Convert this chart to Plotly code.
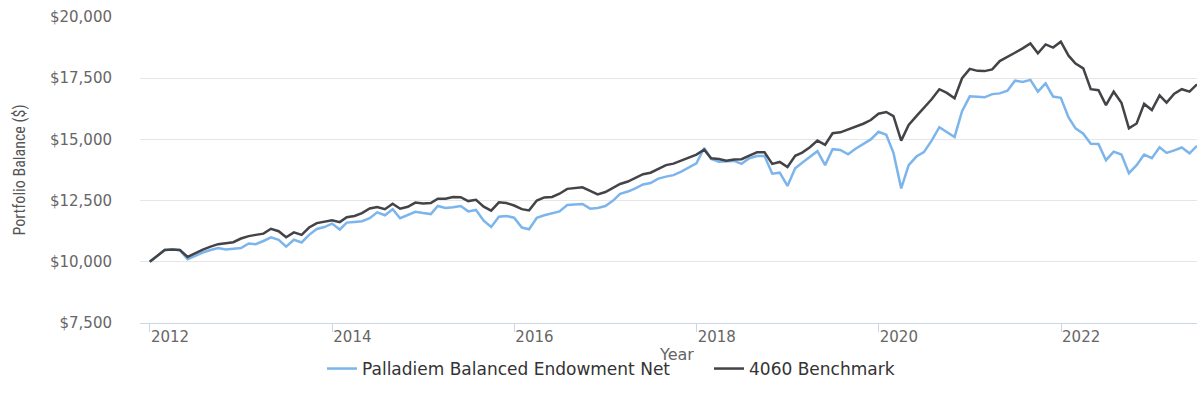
import pandas as pd
import plotly.graph_objects as go

# Monthly observations, Dec 2011 .. Jun 2023 (month-end)
dates = pd.date_range(start="2012-01-01", periods=139, freq="MS") - pd.Timedelta(days=1)

palladiem = [
    10000, 10250, 10480, 10500, 10470, 10100, 10250, 10380, 10480, 10560, 10500, 10530,
    10560, 10750, 10720, 10850, 11000, 10900, 10620, 10900, 10790, 11100, 11340, 11420,
    11560, 11320, 11600, 11630, 11660, 11780, 12020, 11900, 12150, 11780, 11920, 12040,
    11990, 11950, 12280, 12200, 12230, 12280, 12060, 12120, 11680, 11420, 11840, 11870,
    11800, 11400, 11330, 11800, 11900, 11990, 12060, 12320, 12330, 12360, 12170, 12200,
    12280, 12500, 12780, 12870, 13000, 13160, 13220, 13400, 13480, 13540, 13680, 13840,
    14020, 14650, 14200, 14090, 14090, 14120, 14000, 14230, 14320, 14320, 13600, 13640,
    13100, 13820, 14050, 14270, 14520, 13950, 14600, 14570, 14390, 14620, 14820, 15000,
    15310, 15190, 14450, 13000, 13950, 14300, 14480, 14950, 15500, 15320, 15100, 16150,
    16760, 16740, 16720, 16850, 16880, 16990, 17400, 17350, 17430, 16950, 17290, 16750,
    16700, 15900, 15450, 15230, 14820, 14810, 14150, 14500, 14380, 13620, 13950, 14380,
    14230, 14680, 14450, 14550, 14670, 14430, 14740,
]

benchmark = [
    10000, 10250, 10480, 10500, 10480, 10200, 10350, 10500, 10620, 10720, 10760, 10800,
    10950, 11050, 11100, 11150, 11350, 11250, 11000, 11200, 11100, 11400, 11580, 11650,
    11700, 11620, 11820, 11870, 11990, 12180, 12240, 12150, 12370, 12170, 12250, 12420,
    12380, 12400, 12580, 12580, 12650, 12640, 12480, 12530, 12250, 12090, 12430, 12400,
    12300, 12150, 12100, 12500, 12630, 12650, 12780, 12980, 13010, 13040, 12900, 12750,
    12850, 13020, 13180, 13280, 13430, 13580, 13640, 13810, 13950, 14010, 14140, 14260,
    14380, 14580, 14230, 14200, 14130, 14180, 14190, 14340, 14470, 14470, 14000, 14080,
    13870, 14330, 14460, 14680, 14950, 14780, 15250, 15290, 15400, 15500, 15640, 15790,
    16050, 16120, 15950, 14950, 15590, 15950, 16300, 16640, 17050, 16900, 16680, 17500,
    17880, 17800, 17790, 17860, 18200, 18360, 18540, 18720, 18920, 18520, 18880, 18750,
    18990, 18420, 18100, 17900, 17050, 17010, 16400, 16950, 16500, 15450, 15650, 16450,
    16200, 16800, 16500, 16870, 17050, 16950, 17250,
]

series_names = ["Palladiem Balanced Endowment Net", "4060 Benchmark"]
series_colors = ["#7cb5ec", "#434348"]
y_ticks = [7500, 10000, 12500, 15000, 17500, 20000]
y_tick_labels = ["$" + f"{v:,}" for v in y_ticks]
x_title = "Year"
y_title = "Portfolio Balance ($)"

fig = go.Figure()
for name, vals, col in zip(series_names, [palladiem, benchmark], series_colors):
    fig.add_trace(go.Scatter(x=dates, y=vals, mode="lines", name=name,
                             line=dict(color=col, width=2.5)))

fig.update_layout(
    width=1197, height=402,
    margin=dict(l=140, r=0, t=17, b=79),
    paper_bgcolor="white", plot_bgcolor="white",
    font=dict(family="DejaVu Sans", size=15, color="#666666"),
    showlegend=True,
    legend=dict(orientation="h", xref="container", yref="container",
                x=322 / 1197, xanchor="left", y=1 - 369 / 402, yanchor="middle",
                entrywidth=342, entrywidthmode="pixels",
                font=dict(size=17, color="#333333"), itemwidth=30),
    annotations=[dict(text=x_title, xref="paper", yref="paper",
                      x=(676 - 140) / 1057, y=(323 - 354) / 306,
                      xanchor="center", yanchor="middle",
                      showarrow=False, font=dict(size=16, color="#666666"))],
)
fig.update_xaxes(
    automargin=False,
    range=["2011-11-22", "2023-06-30"],
    tick0="2012-01-01", dtick="M24", tickformat="%Y",
    ticks="outside", ticklen=8, tickcolor="#ccd6eb",
    ticklabelposition="outside right",
    showline=True, linecolor="#ccd6eb", linewidth=1,
    showgrid=False, zeroline=False,
    tickfont=dict(size=15, color="#666666"),
)
fig.update_yaxes(
    automargin=False,
    range=[7500, 20000], tickvals=y_ticks, ticktext=y_tick_labels,
    showgrid=True, gridcolor="#e6e6e6", gridwidth=1,
    zeroline=False, showline=False, ticks="",
    ticklabelstandoff=27,
    tickfont=dict(size=15, color="#666666"),
    title=dict(text=y_title,
               font=dict(family="Liberation Sans Narrow, Roboto Condensed, Roboto", size=16, color="#555555"),
               standoff=20),
)

fig.write_html("out.html", config={"displayModeBar": False},
               post_script="document.body.style.margin='0';")
